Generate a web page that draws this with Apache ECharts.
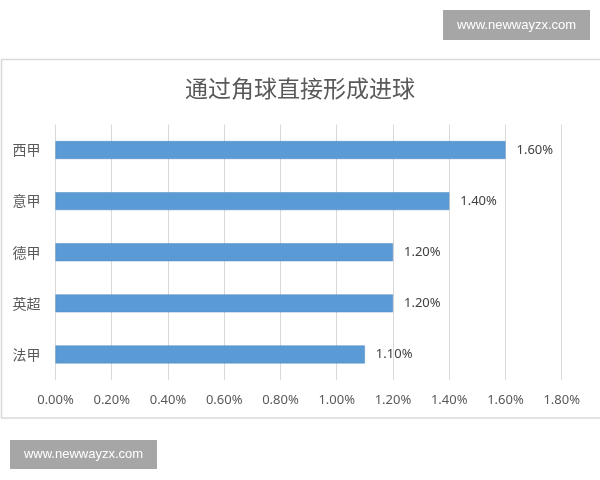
<!DOCTYPE html>
<html><head><meta charset="utf-8">
<script src="https://cdn.jsdelivr.net/npm/echarts@6/dist/echarts.min.js"></script>
<style>html,body{margin:0;padding:0;background:#fff;}#c{width:600px;height:480px;}</style>
</head><body><div id="c"></div>
<script>
const titleText = '通过角球直接形成进球';
const categories = ['法甲', '英超', '德甲', '意甲', '西甲'];
const values = [1.10, 1.20, 1.20, 1.40, 1.60];
const axisMax = 1.8;
const axisStep = 0.2;
const watermark = 'www.newwayzx.com';

const chart = echarts.init(document.getElementById('c'));
chart.setOption({
  backgroundColor: '#ffffff',
  animation: false,
  title: {
    text: titleText, left: 'center', top: 72,
    textStyle: {fontFamily: 'Noto Sans CJK SC', fontWeight: 'normal', fontSize: 23, color: '#595959'}
  },
  grid: {left: 55.5, right: 38.3, top: 124.5, bottom: 100},
  xAxis: {
    type: 'value', min: 0, max: axisMax, interval: axisStep,
    axisLine: {show: false}, axisTick: {show: false},
    splitLine: {lineStyle: {color: '#d9d9d9', width: 1}},
    axisLabel: {formatter: v => v.toFixed(2) + '%', color: '#595959', fontSize: 13,
      fontFamily: 'Noto Sans, sans-serif', margin: 14}
  },
  yAxis: {
    type: 'category', data: categories,
    axisLine: {show: false}, axisTick: {show: false},
    axisLabel: {color: '#595959', fontSize: 14, fontFamily: 'Noto Sans CJK SC', margin: 15}
  },
  series: [{
    type: 'bar', data: values, barWidth: '35%',
    itemStyle: {color: '#5b9bd5', borderColor: '#4a86c0', borderWidth: 0.5},
    label: {show: true, position: 'right', distance: 11, formatter: p => p.value.toFixed(2) + '%',
      color: '#404040', fontSize: 13, fontFamily: 'Noto Sans, sans-serif'}
  }],
  graphic: [
    {type: 'rect', shape: {x: 1.5, y: 59.5, width: 604, height: 358.5}, style: {fill: 'none', stroke: '#d9d9d9', lineWidth: 1.5}, z: -1},
    {type: 'rect', shape: {x: 443, y: 10, width: 147, height: 30}, style: {fill: '#a6a6a6'}},
    {type: 'text', x: 516.5, y: 25, style: {text: watermark, fill: '#ffffff', fontSize: 13, fontFamily: 'Liberation Sans, Arial', textAlign: 'center', textVerticalAlign: 'middle'}},
    {type: 'rect', shape: {x: 10, y: 440, width: 147, height: 29}, style: {fill: '#a6a6a6'}},
    {type: 'text', x: 83.5, y: 454.5, style: {text: watermark, fill: '#ffffff', fontSize: 13, fontFamily: 'Liberation Sans, Arial', textAlign: 'center', textVerticalAlign: 'middle'}}
  ]
});
</script></body></html>
